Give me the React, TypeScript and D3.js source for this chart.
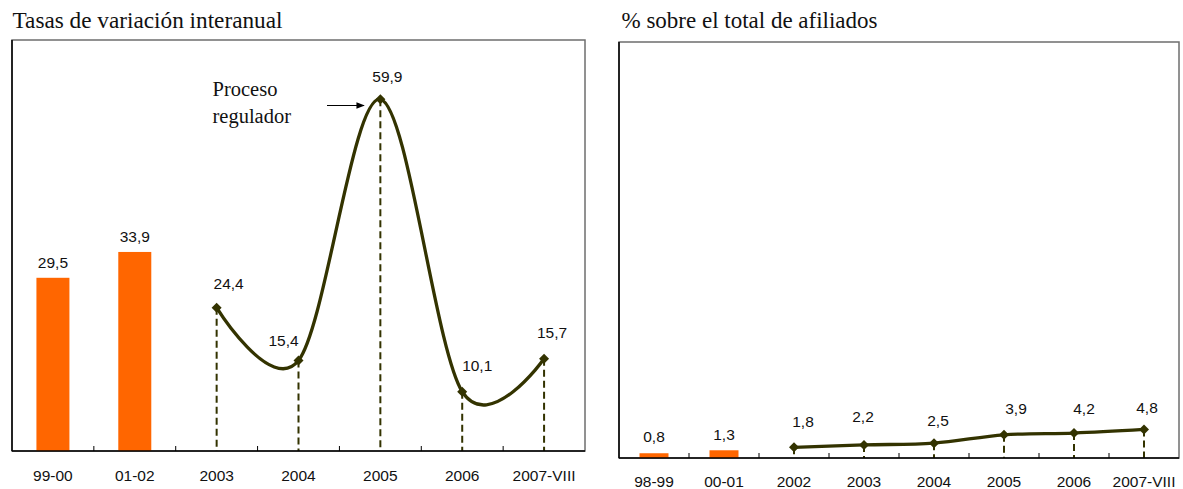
import React from "react";
import * as d3 from "d3";

// Left panel: year-on-year growth rates
const leftCategories = ["99-00", "01-02", "2003", "2004", "2005", "2006", "2007-VIII"];
const leftBarValues = [29.5, 33.9]; // first two periods, drawn as bars
const leftLineValues = [24.4, 15.4, 59.9, 10.1, 15.7]; // 2003 .. 2007-VIII

// Right panel: share of total affiliates (%)
const rightCategories = ["98-99", "00-01", "2002", "2003", "2004", "2005", "2006", "2007-VIII"];
const rightBarValues = [0.8, 1.3];
const rightLineValues = [1.8, 2.2, 2.5, 3.9, 4.2, 4.8];

const yDomain: [number, number] = [0, 70];

// Per-label nudges (dx, dy) relative to the mark
const leftBarLabelShift = [[0, -10], [0, -10]];
const leftLineLabelShift = [[12, -19], [-15, -15], [7, -17], [15, -20.5], [8, -20.5]];
const rightBarLabelShift = [[0, -11], [0, -10]];
const rightLineLabelShift = [[9, -20], [-1, -22.5], [4, -17], [12, -21], [10, -19.5], [3, -16]];

const LINE_COLOR = "#333300";
const BAR_COLOR = "#ff6600";
const SANS = "'Liberation Sans', Arial, sans-serif";
const SERIF = "'Liberation Serif', 'Times New Roman', serif";
const LABEL_SIZE = 15.5;

const fmt = (v: number) => d3.format(".1f")(v).replace(".", ",");

type PanelProps = {
  title: string;
  titleX: number;
  titleWidth: number;
  left: number;
  right: number;
  top: number;
  bottom: number;
  categories: string[];
  barValues: number[];
  lineValues: number[];
  barWidth: number;
  barShift: number[][];
  lineShift: number[][];
  tickLabelY: number;
  children?: React.ReactNode;
};

function Panel(p: PanelProps) {
  const x = d3.scaleBand<string>().domain(p.categories).range([p.left, p.right]).padding(0);
  const y = d3.scaleLinear().domain(yDomain).range([p.bottom, p.top]);
  const cx = (c: string) => (x(c) as number) + x.bandwidth() / 2;

  const nBars = p.barValues.length;
  const lineCats = p.categories.slice(nBars);
  const pts: [number, number][] = p.lineValues.map((v, i) => [cx(lineCats[i]), y(v)]);
  const linePath = d3.line().curve(d3.curveCardinal.tension(0))(pts) || "";
  const diamond = (px: number, py: number) =>
    `M${px},${py - 5}L${px + 5},${py}L${px},${py + 5}L${px - 5},${py}Z`;

  return (
    <g>
      <text
        x={p.titleX}
        y={28}
        fontFamily={SERIF}
        fontSize={23}
        textLength={p.titleWidth}
        lengthAdjust="spacingAndGlyphs"
        fill="#111"
      >
        {p.title}
      </text>
      {/* frame */}
      <rect
        x={p.left}
        y={p.top}
        width={p.right - p.left}
        height={p.bottom - p.top}
        fill="#fff"
        stroke="#6e6e6e"
        strokeWidth={1.5}
      />
      {/* bars */}
      {p.barValues.map((v, i) => {
        const c = p.categories[i];
        return (
          <g key={c}>
            <rect
              x={cx(c) - p.barWidth / 2}
              y={y(v)}
              width={p.barWidth}
              height={y(0) - y(v)}
              fill={BAR_COLOR}
            />
            <text
              x={cx(c) + p.barShift[i][0]}
              y={y(v) + p.barShift[i][1]}
              textAnchor="middle"
              fontFamily={SANS}
              fontSize={LABEL_SIZE}
              fill="#111"
            >
              {fmt(v)}
            </text>
          </g>
        );
      })}
      {/* drop lines */}
      {pts.map(([px, py], i) => (
        <line
          key={"d" + i}
          x1={px}
          x2={px}
          y1={py}
          y2={y(0)}
          stroke={LINE_COLOR}
          strokeWidth={2}
          strokeDasharray="7,4"
        />
      ))}
      {/* axes */}
      <line x1={p.left} x2={p.left} y1={p.top} y2={p.bottom} stroke="#000" strokeWidth={1.5} />
      <line x1={p.left} x2={p.right} y1={p.bottom} y2={p.bottom} stroke="#000" strokeWidth={1.5} />
      {p.categories.slice(1).map((c) => (
        <line
          key={"t" + c}
          x1={x(c) as number}
          x2={x(c) as number}
          y1={p.bottom}
          y2={p.bottom - 5}
          stroke="#000"
          strokeWidth={1}
        />
      ))}
      {p.categories.map((c) => (
        <text
          key={"l" + c}
          x={cx(c)}
          y={p.tickLabelY}
          textAnchor="middle"
          fontFamily={SANS}
          fontSize={LABEL_SIZE}
          fill="#111"
        >
          {c}
        </text>
      ))}
      {/* smoothed line with diamond markers */}
      <path d={linePath} fill="none" stroke={LINE_COLOR} strokeWidth={3.3} />
      {pts.map(([px, py], i) => (
        <path key={"m" + i} d={diamond(px, py)} fill={LINE_COLOR} />
      ))}
      {pts.map(([px, py], i) => (
        <text
          key={"v" + i}
          x={px + p.lineShift[i][0]}
          y={py + p.lineShift[i][1]}
          textAnchor="middle"
          fontFamily={SANS}
          fontSize={LABEL_SIZE}
          fill="#111"
        >
          {fmt(p.lineValues[i])}
        </text>
      ))}
      {p.children}
    </g>
  );
}

export default function App() {
  return (
    <svg
      width={1183}
      height={489}
      style={{ position: "absolute", left: 0, top: 0, background: "#fff" }}
    >
      <defs>
        <marker id="arrowHead" viewBox="0 0 10 10" refX="9" refY="5" markerWidth="7" markerHeight="7" orient="auto">
          <path d="M0,1L10,5L0,9Z" fill="#000" />
        </marker>
      </defs>
      <Panel
        title="Tasas de variación interanual"
        titleX={12.5}
        titleWidth={270}
        left={12}
        right={585}
        top={40}
        bottom={451}
        categories={leftCategories}
        barValues={leftBarValues}
        lineValues={leftLineValues}
        barWidth={33}
        barShift={leftBarLabelShift}
        lineShift={leftLineLabelShift}
        tickLabelY={480.5}
      >
        <text fontFamily={SERIF} fontSize={20.5} fill="#111">
          <tspan x={212.5} y={96}>Proceso</tspan>
          <tspan x={212.5} y={123}>regulador</tspan>
        </text>
        <line x1={327} x2={364} y1={105.5} y2={105.5} stroke="#000" strokeWidth={1.2} markerEnd="url(#arrowHead)" />
      </Panel>
      <Panel
        title="% sobre el total de afiliados"
        titleX={621.5}
        titleWidth={256}
        left={619}
        right={1179}
        top={42}
        bottom={458}
        categories={rightCategories}
        barValues={rightBarValues}
        lineValues={rightLineValues}
        barWidth={29}
        barShift={rightBarLabelShift}
        lineShift={rightLineLabelShift}
        tickLabelY={487}
      />
    </svg>
  );
}
